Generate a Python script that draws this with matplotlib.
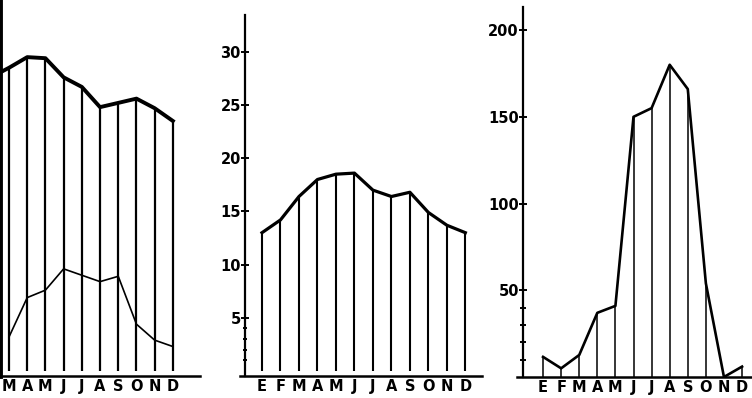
import matplotlib
matplotlib.use("Agg")
import matplotlib.pyplot as plt
import numpy as np

# month initials (Spanish): Enero ... Diciembre
months = ["E", "F", "M", "A", "M", "J", "J", "A", "S", "O", "N", "D"]

# left panel, cut off at the page edge (E and F fall outside)
left_upper = [27.0, 27.6, 28.5, 29.5, 29.4, 27.6, 26.7, 24.8, 25.2, 25.6, 24.7, 23.5]
left_lower = [np.nan, np.nan, 3.2, 6.9, 7.6, 9.6, 9.0, 8.4, 8.9, 4.4, 2.9, 2.3]

# middle panel: monthly temperature
mid_temp = [13.0, 14.2, 16.4, 18.0, 18.5, 18.6, 17.0, 16.4, 16.8, 14.9, 13.7, 13.0]
mid_ticks = [5, 10, 15, 20, 25, 30]

# right panel: monthly rainfall
right_rain = [11.6, 5, 12.7, 37, 41, 150, 155, 180, 166, 54, 0, 6]
right_ticks = [50, 100, 150, 200]

W, H = 752, 398
fig = plt.figure(figsize=(W / 100, H / 100), dpi=100)
fig.patch.set_facecolor("white")

lab_font = dict(family="DejaVu Sans", weight="heavy", size=10.5)


def add_axes_px(x0, x1, ytop, ybot):
    return fig.add_axes([x0 / W, 1 - ybot / H, (x1 - x0) / W, (ybot - ytop) / H])


def style(ax):
    for s in ["top", "right"]:
        ax.spines[s].set_visible(False)
    ax.spines["left"].set_linewidth(1.6)
    ax.spines["bottom"].set_linewidth(1.8)
    ax.set_facecolor("none")
    ax.set_xticks(range(12))
    ax.set_xticklabels(months, fontdict=lab_font)
    ax.tick_params(axis="x", length=0, pad=2)
    ax.tick_params(axis="y", direction="inout", length=6, width=1.4, pad=0)


x = np.arange(12)

# --- left panel ---
ax1 = add_axes_px(0, 200, 0, 376)
style(ax1)
ax1.set_xlim(1.505, 12.49)
ax1.set_ylim(-0.47, 34.87)
ax1.set_yticks([])
ax1.spines["left"].set_linewidth(3.5)
ax1.vlines(x, 0, left_upper, color="black", lw=1.6)
ax1.plot(x, left_upper, color="black", lw=2.8, solid_joinstyle="round")
ax1.plot(x, left_lower, color="black", lw=1.2)

# --- middle panel ---
ax2 = add_axes_px(240, 482, 15, 376)
style(ax2)
ax2.set_xlim(-1.19, 11.9)
ax2.set_ylim(-0.47, 33.46)
ax2.spines["left"].set_position(("data", -0.92))
ax2.set_yticks(mid_ticks)
ax2.set_yticklabels([str(v) for v in mid_ticks], fontdict=lab_font)
ax2.set_yticks([1, 2, 3, 4], minor=True)
ax2.tick_params(axis="y", which="minor", direction="inout", length=3, width=1.4)
ax2.vlines(x, 0, mid_temp, color="black", lw=1.5)
ax2.plot(x, mid_temp, color="black", lw=2.3, solid_joinstyle="round")

# --- right panel ---
ax3 = add_axes_px(517, 752, 7, 377)
style(ax3)
ax3.set_xlim(-1.44, 11.55)
ax3.set_ylim(0, 213.3)
ax3.spines["left"].set_position(("data", -1.10))
ax3.set_yticks(right_ticks)
ax3.set_yticklabels([str(v) for v in right_ticks], fontdict=lab_font)
ax3.set_yticks([10, 20, 30, 40], minor=True)
ax3.tick_params(axis="y", which="minor", direction="inout", length=5, width=1.4)
ax3.vlines(x, 0, right_rain, color="black", lw=1.1)
ax3.plot(x, right_rain, color="black", lw=1.9, solid_joinstyle="round")

fig.savefig("out.png", dpi=100, facecolor="white")
